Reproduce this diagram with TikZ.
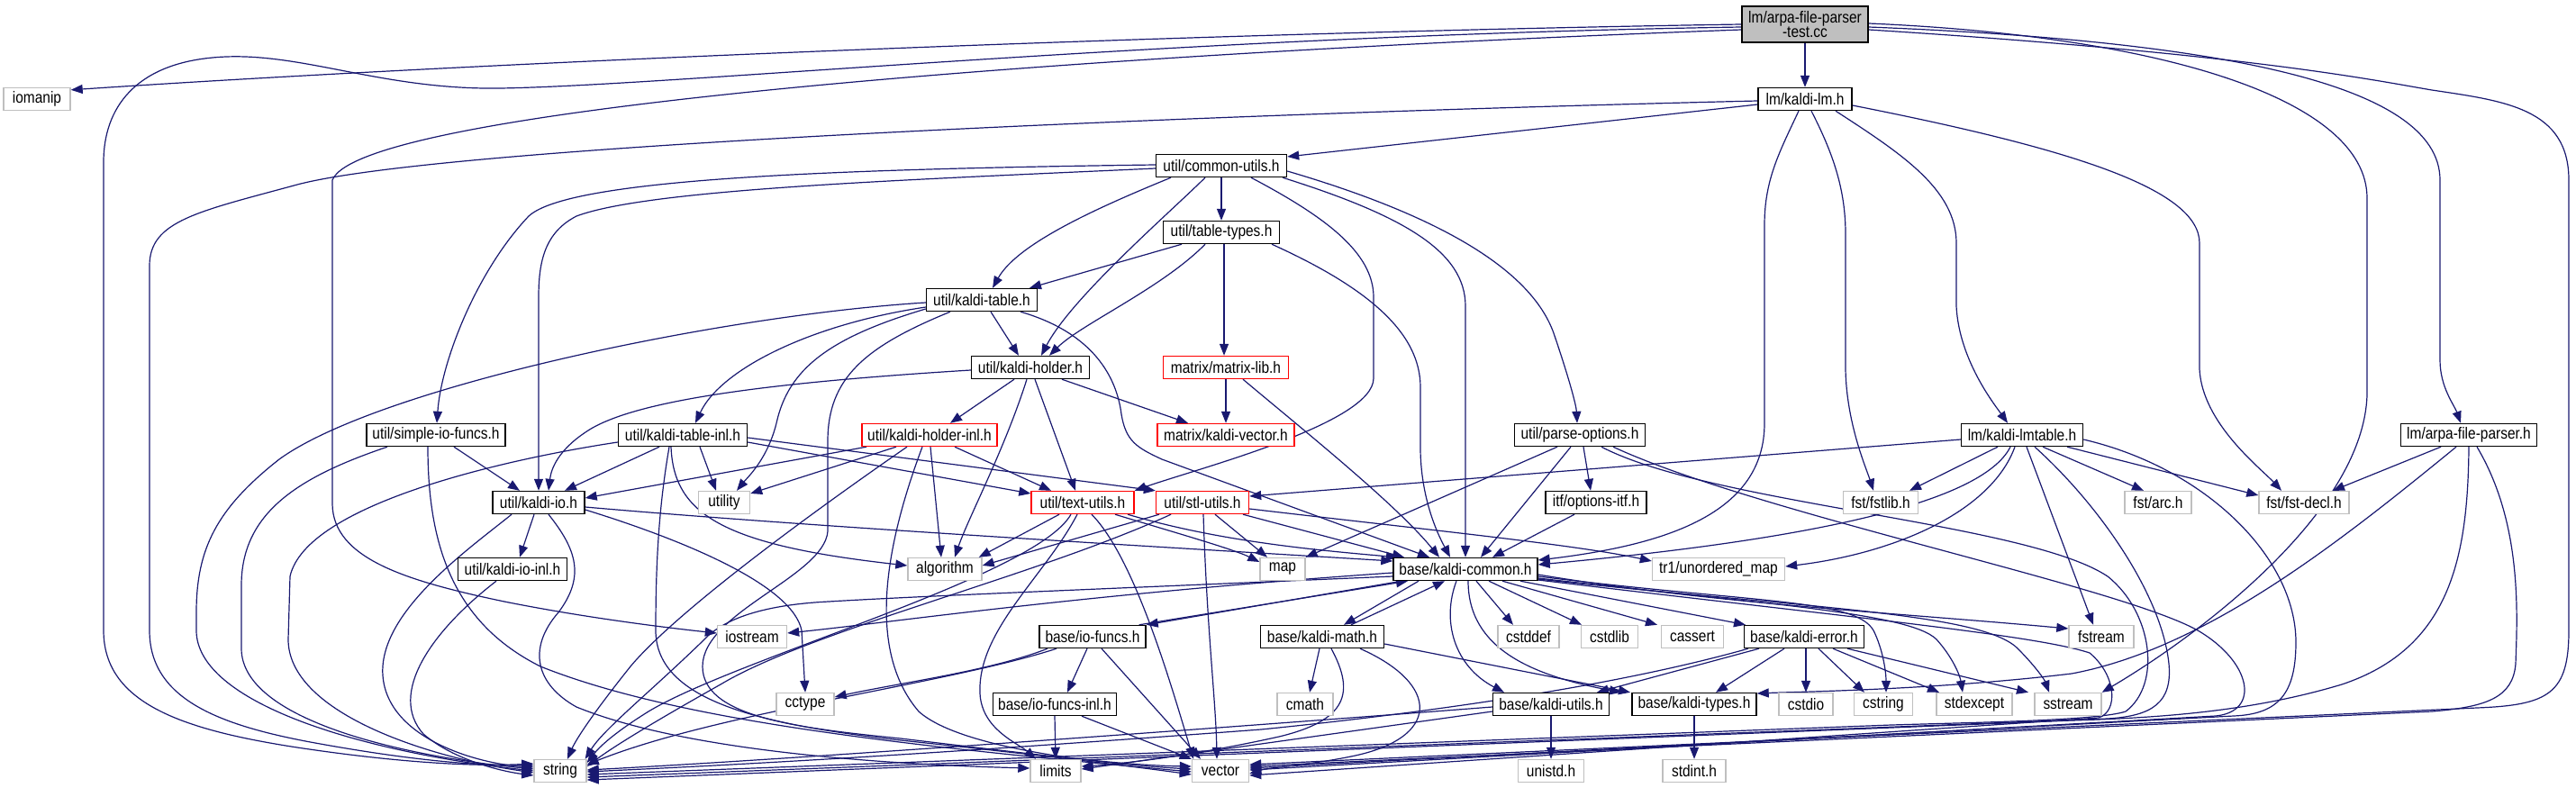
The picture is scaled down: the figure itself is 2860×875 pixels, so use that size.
\documentclass[tikz,border=0pt]{standalone}
\usepackage{fontspec}
\newfontfamily\gfont{Liberation Sans}[FakeStretch=0.86]
\newcommand\nf{\gfont\fontsize{18pt}{14pt}\selectfont}
\usetikzlibrary{arrows.meta}
\definecolor{edgec}{HTML}{191970}
\definecolor{grayb}{HTML}{BFBFBF}
\definecolor{redb}{HTML}{FF0000}
\pgfdeclarelayer{bg}
\pgfsetlayers{bg,main}
\begin{document}
\begin{tikzpicture}[x=1pt,y=-1pt,
  box/.style={rectangle, line width=1.4pt, minimum height=25pt, inner sep=0pt, fill=white, font=\nf},
  doc/.style={box, draw=black},
  ext/.style={box, draw=grayb},
  trunc/.style={box, draw=redb},
  e/.style={draw=edgec, line width=1.2pt, -{Triangle[length=13pt,width=10pt]}}]
\useasboundingbox (0,0) rectangle (2860,875);
% nodes
\node[doc, fill=grayb, minimum width=140pt, minimum height=40pt, align=center] (root) at (2004,27) {lm/arpa-file-parser\\-test.cc};
\node[doc, minimum width=104pt] (kaldilm) at (2004,110) {lm/kaldi-lm.h};
\node[doc, minimum width=145pt] (common) at (1356,184) {util/common-utils.h};
\node[doc, minimum width=129pt] (tabletypes) at (1356,258) {util/table-types.h};
\node[doc, minimum width=123pt] (ktable) at (1090,333) {util/kaldi-table.h};
\node[doc, minimum width=131pt] (holder) at (1144,408) {util/kaldi-holder.h};
\node[trunc, minimum width=139pt] (matrixlib) at (1361,408) {matrix/matrix-lib.h};
\node[trunc, minimum width=152pt] (kvector) at (1361,483) {matrix/kaldi-vector.h};
\node[trunc, minimum width=150pt] (holderinl) at (1032,483) {util/kaldi-holder-inl.h};
\node[trunc, minimum width=114pt] (textutils) at (1202,558) {util/text-utils.h};
\node[trunc, minimum width=103pt] (stlutils) at (1335,558) {util/stl-utils.h};
\node[doc, minimum width=145pt] (parseopt) at (1754,483) {util/parse-options.h};
\node[doc, minimum width=112pt] (optionsitf) at (1772,558) {itf/options-itf.h};
\node[doc, minimum width=154pt] (simpleio) at (484,483) {util/simple-io-funcs.h};
\node[doc, minimum width=143pt] (tableinl) at (758,483) {util/kaldi-table-inl.h};
\node[doc, minimum width=102pt] (kaldiio) at (598,558) {util/kaldi-io.h};
\node[ext, minimum width=57pt] (utility) at (804,558) {utility};
\node[doc, minimum width=135pt] (lmtable) at (2245,483) {lm/kaldi-lmtable.h};
\node[doc, minimum width=151pt] (arpaparser) at (2741,483) {lm/arpa-file-parser.h};
\node[ext, minimum width=83pt] (fstlib) at (2088,558) {fst/fstlib.h};
\node[ext, minimum width=74pt] (arc) at (2396,558) {fst/arc.h};
\node[ext, minimum width=100pt] (fstdecl) at (2558,558) {fst/fst-decl.h};
\node[ext, minimum width=74pt] (iomanip) at (41,110) {iomanip};
\node[doc, minimum width=121pt] (kaldiioinl) at (569,632) {util/kaldi-io-inl.h};
\node[ext, minimum width=77pt] (iostream) at (835,707) {iostream};
\node[ext, minimum width=64pt] (cctype) at (894,782) {cctype};
\node[ext, minimum width=58pt] (string) at (622,856) {string};
\node[ext, minimum width=82pt] (algorithm) at (1049,632) {algorithm};
\node[ext, minimum width=50pt] (map) at (1424,632) {map};
\node[doc, minimum width=160pt] (kcommon) at (1627,632) {base/kaldi-common.h};
\node[ext, minimum width=147pt] (tr1) at (1908,632) {tr1/unordered\_map};
\node[doc, minimum width=118pt] (iofuncs) at (1213,707) {base/io-funcs.h};
\node[doc, minimum width=137pt] (kmath) at (1468,707) {base/kaldi-math.h};
\node[ext, minimum width=68pt] (cstddef) at (1697,707) {cstddef};
\node[ext, minimum width=63pt] (cstdlib) at (1787,707) {cstdlib};
\node[ext, minimum width=69pt] (cassert) at (1879,707) {cassert};
\node[doc, minimum width=133pt] (kerror) at (2003,707) {base/kaldi-error.h};
\node[ext, minimum width=72pt] (fstream) at (2333,707) {fstream};
\node[doc, minimum width=137pt] (iofuncsinl) at (1171,782) {base/io-funcs-inl.h};
\node[ext, minimum width=62pt] (cmath) at (1449,782) {cmath};
\node[doc, minimum width=129pt] (kutils) at (1722,782) {base/kaldi-utils.h};
\node[doc, minimum width=138pt] (ktypes) at (1881,782) {base/kaldi-types.h};
\node[ext, minimum width=60pt] (cstdio) at (2005,782) {cstdio};
\node[ext, minimum width=65pt] (cstring) at (2091,782) {cstring};
\node[ext, minimum width=84pt] (stdexcept) at (2192,782) {stdexcept};
\node[ext, minimum width=74pt] (sstream) at (2296,782) {sstream};
\node[ext, minimum width=56pt] (limits) at (1172,856) {limits};
\node[ext, minimum width=63pt] (vector) at (1355,856) {vector};
\node[ext, minimum width=73pt] (unistd) at (1722,856) {unistd.h};
\node[ext, minimum width=70pt] (stdint) at (1881,856) {stdint.h};

\begin{pgfonlayer}{bg}
% root
\draw[e] (root.west) .. controls (1400,35) and (600,65) .. ([yshift=-3pt]iomanip.north east);
\draw[e] ([yshift=-3pt]root.west) .. controls (1300,40) and (750,95) .. (555,98) .. controls (420,100) and (330,55) .. (236,64) .. controls (150,72) and (115,120) .. (115,180) -- (115,700) .. controls (115,780) and (200,810) .. (330,830) .. controls (450,848) and (530,851) .. ([yshift=8pt]string.west);
\draw[e] ([yshift=-6pt]root.west) .. controls (1200,60) and (400,120) .. (369,200) -- (369,560) .. controls (370,620) and (450,645) .. (560,668) .. controls (650,686) and (740,697) .. ([yshift=4pt]iostream.west);
\draw[e] (root.south) -- (kaldilm.north);
\draw[e] ([yshift=-3pt]root.east) .. controls (2450,45) and (2709,90) .. (2709,200) -- (2709,400) .. controls (2709,430) and (2725,450) .. ([xshift=-9pt]arpaparser.north);
\draw[e] ([yshift=1pt]root.east) .. controls (2400,40) and (2628,110) .. (2628,220) -- (2628,430) .. controls (2632,560) and (2450,700) .. (sstream.north east);
\draw[e] ([yshift=-6pt]root.east) .. controls (2500,60) and (2640,90) .. (2700,100) .. controls (2780,112) and (2852,120) .. (2852,200) -- (2852,700) .. controls (2852,770) and (2830,783) .. (2750,786) -- ([yshift=7pt]vector.east);
% kaldilm
\draw[e] ([yshift=-6pt]kaldilm.west) -- ([yshift=10pt]common.east);
\draw[e] ([yshift=-2pt]kaldilm.west) .. controls (1400,125) and (500,160) .. (330,205) .. controls (220,235) and (166,245) .. (166,295) -- (166,700) .. controls (166,775) and (240,805) .. (350,825) .. controls (460,845) and (530,850) .. ([yshift=6pt]string.west);
\draw[e] ([xshift=-7pt]kaldilm.south) .. controls (1975,170) and (1959,200) .. (1959,250) -- (1959,470) .. controls (1959,570) and (1850,605) .. ([yshift=10pt]kcommon.east);
\draw[e] ([xshift=7pt]kaldilm.south) .. controls (2035,170) and (2049,210) .. (2049,260) -- (2049,410) .. controls (2050,470) and (2072,520) .. ([xshift=-8pt]fstlib.north);
\draw[e] ([xshift=34pt]kaldilm.south) .. controls (2110,170) and (2172,210) .. (2172,270) -- (2172,340) .. controls (2175,400) and (2215,450) .. ([xshift=-16pt]lmtable.north);
\draw[e] ([yshift=-7pt]kaldilm.east) .. controls (2300,165) and (2442,210) .. (2442,270) -- (2442,410) .. controls (2445,470) and (2510,520) .. ([xshift=-25pt]fstdecl.north);
% common
\draw[e] ([yshift=1pt]common.west) .. controls (900,188) and (630,200) .. (587,240) .. controls (530,300) and (490,400) .. ([xshift=1pt]simpleio.north);
\draw[e] ([yshift=-3pt]common.west) .. controls (1000,200) and (720,210) .. (640,240) .. controls (605,258) and (598,290) .. (598,330) -- (kaldiio.north);
\draw[e] ([xshift=-56pt]common.south) .. controls (1220,230) and (1130,270) .. ([xshift=12pt]ktable.north);
\draw[e] ([xshift=-18pt]common.south) .. controls (1300,235) and (1190,330) .. ([xshift=12pt]holder.north);
\draw[e] (common.south) -- (tabletypes.north);
\draw[e] ([xshift=33pt]common.south) .. controls (1470,240) and (1525,280) .. (1525,330) -- (1525,420) .. controls (1525,470) and (1330,520) .. (textutils.north east);
\draw[e] ([xshift=68pt]common.south) .. controls (1560,240) and (1627,280) .. (1627,340) -- (kcommon.north);
\draw[e] ([yshift=-6pt]common.east) .. controls (1600,240) and (1700,300) .. (1725,370) .. controls (1742,420) and (1750,450) .. ([xshift=-3pt]parseopt.north);
% tabletypes
\draw[e] ([xshift=-44pt]tabletypes.south) -- ([xshift=53pt]ktable.north);
\draw[e] ([xshift=-18pt]tabletypes.south) .. controls (1290,320) and (1200,360) .. ([xshift=21pt]holder.north);
\draw[e] ([xshift=3pt]tabletypes.south) -- ([xshift=-2pt]matrixlib.north);
\draw[e] ([xshift=56pt]tabletypes.south) .. controls (1520,320) and (1577,370) .. (1577,430) -- (1577,500) .. controls (1578,560) and (1600,600) .. ([xshift=-17pt]kcommon.north);
% ktable
\draw[e] ([xshift=10pt]ktable.south) -- ([xshift=-13pt]holder.north);
\draw[e] ([xshift=43pt]ktable.south) .. controls (1215,370) and (1240,420) .. (1245,460) .. controls (1250,490) and (1262,497) .. (1290,510) -- ([xshift=-40pt]kcommon.north);
\draw[e] ([yshift=-3pt]ktable.west) .. controls (800,350) and (420,430) .. (310,510) .. controls (240,565) and (218,610) .. (218,680) -- (218,700) .. controls (218,780) and (400,835) .. (string.west);
\draw[e] ([yshift=-8pt]ktable.west) .. controls (900,360) and (800,410) .. ([xshift=14pt]tableinl.north);
\draw[e] ([yshift=-10pt]ktable.west) .. controls (920,375) and (875,410) .. (862,470) .. controls (852,510) and (830,530) .. ([xshift=14pt]utility.north);
\draw[e] ([xshift=-35pt]ktable.south) .. controls (960,385) and (919,420) .. (919,490) -- (919,590) .. controls (915,640) and (780,680) .. (780,740) .. controls (780,795) and (880,808) .. (1000,820) .. controls (1150,838) and (1250,850) .. ([yshift=5pt]vector.west);
% holder
\draw[e] ([yshift=-3pt]holder.west) .. controls (850,425) and (700,445) .. (650,480) .. controls (620,500) and (612,520) .. ([xshift=11pt]kaldiio.north);
\draw[e] ([xshift=-18pt]holder.south) -- ([xshift=23pt]holderinl.north);
\draw[e] ([xshift=-4pt]holder.south) .. controls (1115,500) and (1075,575) .. ([xshift=11pt]algorithm.north);
\draw[e] ([xshift=5pt]holder.south) -- ([xshift=-8pt]textutils.north);
\draw[e] ([xshift=35pt]holder.south) -- ([xshift=-42pt]kvector.north);
% matrixlib
\draw[e] (matrixlib.south) -- (kvector.north);
\draw[e] ([xshift=19pt]matrixlib.south) .. controls (1450,480) and (1550,560) .. ([xshift=-29pt]kcommon.north);
% holderinl
\draw[e] ([xshift=-70pt]holderinl.south) -- ([yshift=5pt]kaldiio.east);
\draw[e] ([xshift=-37pt]holderinl.south) -- ([yshift=10pt]utility.east);
\draw[e] ([xshift=-25pt]holderinl.south) .. controls (900,570) and (750,680) .. (700,740) .. controls (660,790) and (640,820) .. ([xshift=8pt]string.north);
\draw[e] ([xshift=-8pt]holderinl.south) .. controls (985,600) and (960,720) .. (1020,790) .. controls (1070,835) and (1250,850) .. ([yshift=2pt]vector.west);
\draw[e] ([xshift=1pt]holderinl.south) -- ([xshift=-4pt]algorithm.north);
\draw[e] ([xshift=28pt]holderinl.south) -- ([xshift=-35pt]textutils.north);
% textutils
\draw[e] ([xshift=-26pt]textutils.south) -- ([xshift=-4pt]algorithm.north east);
\draw[e] ([xshift=-13pt]textutils.south) .. controls (1150,640) and (820,730) .. (720,790) .. controls (680,815) and (665,830) .. ([yshift=9pt]string.east);
\draw[e] ([xshift=-6pt]textutils.south) .. controls (1160,640) and (1085,700) .. (1088,770) .. controls (1090,810) and (1130,825) .. ([xshift=-22pt]limits.north);
\draw[e] ([xshift=10pt]textutils.south) .. controls (1260,620) and (1300,760) .. ([xshift=-30pt]vector.north);
\draw[e] ([xshift=36pt]textutils.south) .. controls (1300,590) and (1370,610) .. ([yshift=8pt]map.west);
\draw[e] ([xshift=50pt]textutils.south) .. controls (1350,600) and (1450,610) .. ([xshift=-75pt]kcommon.north);
% stlutils
\draw[e] ([xshift=-48pt]stlutils.south) -- ([yshift=4pt]algorithm.east);
\draw[e] ([xshift=-35pt]stlutils.south) .. controls (1150,640) and (900,700) .. (800,760) .. controls (720,805) and (680,830) .. ([yshift=5pt]string.east);
\draw[e] ([xshift=1pt]stlutils.south) .. controls (1340,700) and (1350,780) .. ([xshift=-4pt]vector.north);
\draw[e] ([xshift=14pt]stlutils.south) -- ([xshift=-17pt]map.north);
\draw[e] ([xshift=45pt]stlutils.south) -- ([xshift=-68pt]kcommon.north);
\draw[e] ([yshift=-7pt]stlutils.east) .. controls (1600,590) and (1750,605) .. ([yshift=9pt]tr1.west);
% kaldiio
\draw[e] ([xshift=-5pt]kaldiio.south) -- ([xshift=8pt]kaldiioinl.north);
\draw[e] ([xshift=-30pt]kaldiio.south) .. controls (520,610) and (420,680) .. (425,750) .. controls (430,820) and (530,848) .. ([yshift=4pt]string.west);
\draw[e] ([xshift=11pt]kaldiio.south) .. controls (640,610) and (650,640) .. (620,680) .. controls (585,720) and (595,760) .. (640,785) .. controls (750,830) and (950,848) .. ([yshift=3pt]limits.west);
\draw[e] ([yshift=-5pt]kaldiio.east) .. controls (900,585) and (1300,608) .. ([yshift=9pt]kcommon.west);
\draw[e] ([yshift=-8pt]kaldiio.east) .. controls (760,600) and (880,650) .. (890,700) -- (cctype.north);
\draw[e] ([xshift=-18pt]kaldiioinl.south) .. controls (480,700) and (430,770) .. (470,815) .. controls (505,845) and (560,857) .. ([yshift=-5pt]string.west);
% simpleio
\draw[e] ([xshift=20pt]simpleio.south) -- ([xshift=-21pt]kaldiio.north);
\draw[e] ([xshift=-54pt]simpleio.south) .. controls (330,530) and (268,570) .. (268,650) -- (268,720) .. controls (268,800) and (450,840) .. ([yshift=2pt]string.west);
\draw[e] ([xshift=-9pt]simpleio.south) .. controls (475,600) and (500,690) .. (600,740) .. controls (750,800) and (1000,828) .. ([yshift=-1pt]vector.west);
% tableinl
\draw[e] ([xshift=-26pt]tableinl.south) -- ([xshift=29pt]kaldiio.north);
\draw[e] ([yshift=-8pt]tableinl.west) .. controls (560,510) and (340,560) .. (322,640) -- (320,710) .. controls (320,790) and (470,840) .. ([yshift=-2pt]string.west);
\draw[e] ([xshift=19pt]tableinl.south) -- ([xshift=-9pt]utility.north);
\draw[e] ([xshift=-15pt]tableinl.south) .. controls (732,560) and (728,620) .. (728,700) .. controls (728,780) and (850,805) .. (1000,822) .. controls (1150,838) and (1250,850) .. ([yshift=-4pt]vector.west);
\draw[e] ([xshift=-13pt]tableinl.south) .. controls (748,570) and (800,605) .. ([yshift=4pt]algorithm.west);
\draw[e] ([yshift=-8pt]tableinl.east) -- ([yshift=10pt]textutils.west);
\draw[e] ([yshift=-3pt]tableinl.east) -- (stlutils.north west);
% iofuncs
\draw[e] ([xshift=-8pt]iofuncs.north east) -- ([xshift=-64pt]kcommon.south);
\draw[e] ([xshift=-71pt]kcommon.south) -- (iofuncs.north east);
\draw[e] ([xshift=-50pt]iofuncs.south) .. controls (1100,745) and (1000,758) .. ([yshift=8pt]cctype.east);
\draw[e] ([xshift=-40pt]iofuncs.south) .. controls (1050,760) and (800,790) .. ([yshift=7pt]string.east);
\draw[e] ([xshift=-6pt]iofuncs.south) -- ([xshift=14pt]iofuncsinl.north);
\draw[e] ([xshift=10pt]iofuncs.south) -- ([xshift=-22pt]vector.north);
\draw[e] (iofuncsinl.south) -- (limits.north);
\draw[e] ([xshift=30pt]iofuncsinl.south) -- (vector.north west);
% kmath
\draw[e] ([xshift=-3pt]kmath.south) -- ([xshift=5pt]cmath.north);
\draw[e] ([xshift=32pt]kmath.north) -- ([xshift=-23pt]kcommon.south);
\draw[e] ([xshift=-52pt]kcommon.south) -- ([xshift=24pt]kmath.north);
\draw[e] ([xshift=10pt]kmath.south) .. controls (1505,770) and (1495,800) .. (1420,818) .. controls (1330,838) and (1250,848) .. ([yshift=5pt]limits.east);
\draw[e] ([xshift=42pt]kmath.south) .. controls (1600,760) and (1600,820) .. (1500,840) .. controls (1450,850) and (1410,852) .. ([yshift=-3pt]vector.east);
\draw[e] ([yshift=-8pt]kmath.east) -- ([xshift=-71pt]ktypes.north);
% kcommon
\draw[e] ([yshift=-4pt]kcommon.west) .. controls (1200,660) and (1000,690) .. ([yshift=4pt]iostream.east);
\draw[e] ([yshift=-8pt]kcommon.west) .. controls (1200,655) and (1020,662) .. (920,668) .. controls (840,672) and (800,690) .. (780,712) .. controls (720,770) and (670,810) .. ([xshift=-2pt]string.north east);
\draw[e] ([xshift=-10pt]kcommon.south) .. controls (1600,690) and (1615,740) .. ([xshift=-52pt]kutils.north);
\draw[e] ([xshift=3pt]kcommon.south) .. controls (1630,720) and (1700,750) .. ([xshift=-81pt]ktypes.north);
\draw[e] ([xshift=12pt]kcommon.south) -- ([xshift=-17pt]cstddef.north);
\draw[e] ([xshift=26pt]kcommon.south) -- ([xshift=-31pt]cstdlib.north);
\draw[e] ([xshift=41pt]kcommon.south) -- ([xshift=-39pt]cassert.north);
\draw[e] ([xshift=61pt]kcommon.south) -- ([xshift=-65pt]kerror.north);
\draw[e] ([yshift=-6pt]kcommon.east) .. controls (1900,670) and (2100,680) .. ([yshift=9pt]fstream.west);
\draw[e] ([yshift=-8pt]kcommon.east) .. controls (1950,670) and (2060,665) .. (2080,700) .. controls (2090,720) and (2094,745) .. ([xshift=3pt]cstring.north);
\draw[e] ([yshift=-10pt]kcommon.east) .. controls (1950,670) and (2120,680) .. (2150,710) .. controls (2168,730) and (2176,750) .. ([xshift=-13pt]stdexcept.north);
\draw[e] ([yshift=-11pt]kcommon.east) .. controls (2000,675) and (2200,680) .. (2240,720) .. controls (2260,740) and (2270,755) .. ([xshift=-21pt]sstream.north);
\draw[e] ([yshift=-12pt]kcommon.east) .. controls (2050,685) and (2260,705) .. (2320,725) .. controls (2350,750) and (2352,790) .. (2330,797) -- ([yshift=-5pt]vector.east);
% kerror
\draw[e] ([xshift=-50pt]kerror.south) -- ([xshift=51pt]kutils.north);
\draw[e] ([xshift=-62pt]kerror.south) .. controls (1800,760) and (1600,790) .. (1400,810) .. controls (1000,840) and (800,850) .. ([yshift=-1pt]string.east);
\draw[e] ([xshift=-22pt]kerror.south) -- ([xshift=24pt]ktypes.north);
\draw[e] ([xshift=2pt]kerror.south) -- (cstdio.north);
\draw[e] ([xshift=16pt]kerror.south) -- ([xshift=-21pt]cstring.north);
\draw[e] ([xshift=32pt]kerror.south) -- ([xshift=-39pt]stdexcept.north);
\draw[e] ([xshift=48pt]kerror.south) -- ([xshift=-44pt]sstream.north);
% kutils, ktypes
\draw[e] (kutils.south) -- (unistd.north);
\draw[e] ([yshift=-3pt]kutils.west) .. controls (1400,805) and (900,842) .. ([yshift=1pt]string.east);
\draw[e] ([yshift=-8pt]kutils.west) -- ([yshift=2pt]limits.east);
\draw[e] (ktypes.south) -- (stdint.north);
% optionsitf, parseopt
\draw[e] ([xshift=-24pt]optionsitf.south) -- ([xshift=30pt]kcommon.north);
\draw[e] ([xshift=-25pt]parseopt.south) -- (map.north east);
\draw[e] ([xshift=-10pt]parseopt.south) -- ([xshift=17pt]kcommon.north);
\draw[e] ([xshift=4pt]parseopt.south) -- ([xshift=-6pt]optionsitf.north);
\draw[e] ([xshift=24pt]parseopt.south) .. controls (1900,560) and (2250,580) .. (2340,640) .. controls (2390,680) and (2400,760) .. (2360,790) .. controls (2330,800) and (2200,802) .. (2100,805) -- ([yshift=-4pt]string.east);
\draw[e] ([xshift=37pt]parseopt.south) .. controls (1950,570) and (2350,650) .. (2440,700) .. controls (2500,735) and (2510,790) .. (2460,795) -- ([yshift=1pt]vector.east);
% lmtable
\draw[e] ([yshift=-5pt]lmtable.west) -- ([yshift=7pt]stlutils.east);
\draw[e] ([xshift=-27pt]lmtable.south) -- ([xshift=32pt]fstlib.north);
\draw[e] ([xshift=-13pt]lmtable.south) .. controls (2200,560) and (2000,600) .. ([yshift=5pt]kcommon.east);
\draw[e] ([xshift=-8pt]lmtable.south) .. controls (2210,570) and (2100,615) .. ([yshift=3pt]tr1.east);
\draw[e] ([xshift=5pt]lmtable.south) -- ([xshift=-9pt]fstream.north);
\draw[e] ([xshift=14pt]lmtable.south) .. controls (2330,560) and (2400,660) .. (2408,737) .. controls (2412,780) and (2390,795) .. (2340,798) -- ([yshift=-7pt]string.east);
\draw[e] ([xshift=23pt]lmtable.south) -- ([xshift=-16pt]arc.north);
\draw[e] ([xshift=50pt]lmtable.south) -- ([yshift=8pt]fstdecl.west);
\draw[e] ([yshift=-5pt]lmtable.east) .. controls (2450,520) and (2549,620) .. (2549,713) .. controls (2549,770) and (2530,793) .. (2480,795) -- ([yshift=3pt]vector.east);
% arpaparser
\draw[e] ([xshift=-31pt]arpaparser.south) -- ([xshift=32pt]fstdecl.north);
\draw[e] ([xshift=-14pt]arpaparser.south) .. controls (2600,600) and (2450,720) .. (2300,748) .. controls (2150,766) and (2000,768) .. ([yshift=12pt]ktypes.east);
\draw[e] (arpaparser.south) .. controls (2740,620) and (2720,720) .. (2600,760) .. controls (2500,790) and (2400,797) .. (2300,800) -- ([yshift=-10pt]string.east);
\draw[e] ([xshift=9pt]arpaparser.south) .. controls (2800,580) and (2795,680) .. (2793,737) .. controls (2790,775) and (2760,785) .. (2700,790) -- ([yshift=5pt]vector.east);
\end{pgfonlayer}
\end{tikzpicture}
\end{document}
